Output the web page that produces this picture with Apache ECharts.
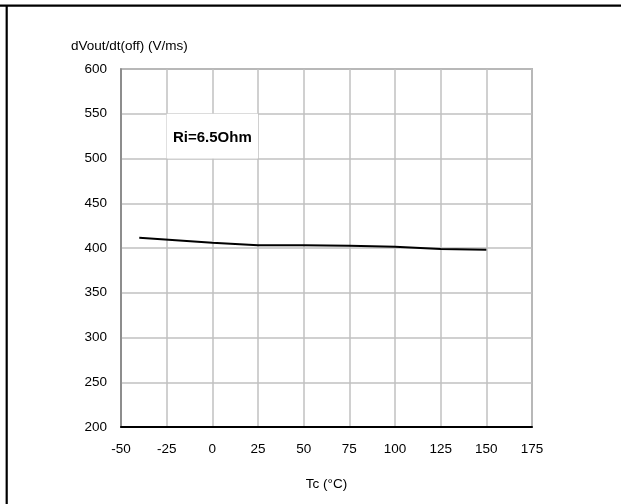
<!DOCTYPE html>
<html>
<head>
<meta charset="utf-8">
<script src="https://cdn.jsdelivr.net/npm/echarts@6/dist/echarts.min.js"></script>
<style>
html,body{margin:0;padding:0;background:#fff;}
#c{width:621px;height:504px;}
</style>
</head>
<body>
<div id="c"></div>
<script>
var tcValues = [-40, 0, 25, 50, 75, 100, 125, 150];
var dvdtValues = [411.5, 406, 403, 403, 402.5, 401.5, 399, 398];
var yAxisTitle = 'dVout/dt(off) (V/ms)';
var xAxisTitle = 'Tc (°C)';
var annotation = 'Ri=6.5Ohm';

var seriesData = tcValues.map(function (t, i) { return [t, dvdtValues[i]]; });
var font = 'Arial, "Liberation Sans", Helvetica, sans-serif';

var chart = echarts.init(document.getElementById('c'), null, {renderer: 'canvas'});
chart.setOption({
  animation: false,
  backgroundColor: '#fff',
  grid: {
    left: 121, right: 89, top: 69, bottom: 77,
    show: true, borderColor: '#7f7f7f', borderWidth: 1.5, backgroundColor: 'transparent'
  },
  xAxis: {
    type: 'value', min: -50, max: 175, interval: 25,
    name: xAxisTitle, nameLocation: 'middle', nameGap: 50,
    nameTextStyle: {fontFamily: font, fontSize: 13.5, color: '#000'},
    axisLine: {show: true, onZero: false, lineStyle: {color: '#000', width: 2}},
    axisTick: {show: false},
    axisLabel: {fontFamily: font, fontSize: 13.5, color: '#000', margin: 15},
    splitLine: {show: true, lineStyle: {color: '#c0c0c0', width: 1.5}}
  },
  yAxis: {
    type: 'value', min: 200, max: 600, interval: 50,
    axisLine: {show: true, onZero: false, lineStyle: {color: '#7f7f7f', width: 1.5}},
    axisTick: {show: false},
    axisLabel: {fontFamily: font, fontSize: 13.5, color: '#000', margin: 14},
    splitLine: {show: true, lineStyle: {color: '#c0c0c0', width: 1.5}}
  },
  graphic: [
    {type: 'text', left: 71, top: 39, style: {text: yAxisTitle, font: '13.5px ' + font, fill: '#000'}},
    {type: 'line', shape: {x1: 0, y1: 5.7, x2: 621, y2: 5.7}, style: {stroke: '#000', lineWidth: 2.2}},
    {type: 'line', shape: {x1: 6.7, y1: 5, x2: 6.7, y2: 504}, style: {stroke: '#000', lineWidth: 2.2}}
  ],
  series: [{
    type: 'line',
    data: seriesData,
    showSymbol: false,
    smooth: false,
    lineStyle: {color: '#000', width: 2},
    markArea: {
      silent: true,
      itemStyle: {color: '#fff', opacity: 1},
      label: {show: true, position: 'inside', offset: [0, 2], formatter: annotation,
        fontFamily: font, fontSize: 15, fontWeight: 'bold', color: '#000'},
      data: [[{coord: [-25, 550]}, {coord: [25, 500]}]]
    }
  }]
});
</script>
</body>
</html>
